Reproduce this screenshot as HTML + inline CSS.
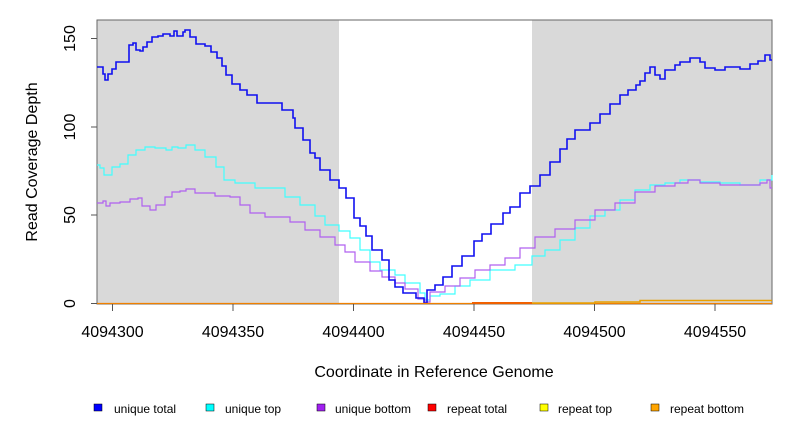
<!DOCTYPE html>
<html><head><meta charset="utf-8"><style>
body{margin:0;background:#fff;}
svg text{font-family:"Liberation Sans",sans-serif;}
</style></head><body>
<svg width="792" height="432" xmlns="http://www.w3.org/2000/svg">
<rect width="792" height="432" fill="#fff"/>
<rect x="97" y="20" width="242" height="284" fill="#d9d9d9"/>
<rect x="532" y="20" width="240" height="284" fill="#d9d9d9"/>
<rect x="97" y="20" width="675" height="284" fill="none" stroke="#666" stroke-width="1"/>
<g fill="none">
<path stroke="#40ffff" stroke-width="1.2" d="M97,165 H100 V168 H104 V175 H108 V175 H112 V167 H120 V164 H128 V155 H136 V150 H145 V147 H155 V148 H166 V150 H172 V147 H178 V148 H186 V145 H195 V150 H205 V157 H216 V167 H224 V180 H235 V183 H255 V188 H270 V188 H285 V197 H300 V205 H315 V216 H325 V225 H339 V231 H350 V238 H360 V250 H370 V262 H380 V270 H395 V275 H405 V283 H420 V293 H425 V300 H430 V296 H440 V294 H455 V286 H470 V280 H490 V270 H515 V265 H532 V256 H545 V250 H560 V240 H575 V228 H590 V216 H605 V210 H620 V200 H635 V190 H650 V185 H665 V183 H680 V180 H700 V182 H720 V183 H740 V185 H760 V180 H772 V175"/>
<path stroke="#b060f0" stroke-width="1.2" d="M97,203 H103 V201 H106 V206 H110 V203 H120 V202 H130 V199 H138 V198 H142 V206 H150 V210 H156 V205 H165 V197 H172 V192 H180 V191 H186 V189 H195 V193 H215 V196 H230 V197 H240 V205 H250 V213 H265 V217 H290 V222 H305 V230 H320 V237 H335 V245 H345 V252 H355 V262 H370 V271 H382 V277 H395 V283 H405 V289 H418 V299 H425 V302 H430 V292 H445 V286 H460 V278 H475 V270 H490 V265 H505 V258 H520 V248 H535 V237 H555 V229 H575 V220 H595 V210 H615 V203 H635 V192 H655 V186 H675 V183 H688 V180 H700 V183 H720 V185 H745 V185 H760 V183 H767 V180 H770 V188 H772"/>
<path stroke="#1010f0" stroke-width="1.6" d="M97,67 H101 V67 H103 V74 H105 V80 H108 V74 H112 V69 H116 V62 H127 V62 H129 V45 H133 V43 H136 V50 H140 V51 H143 V47 H147 V42 H152 V37 H158 V36 H163 V34 H170 V36 H174 V31 H177 V36 H183 V32 H185 V30 H190 V37 H196 V44 H205 V46 H211 V52 H217 V58 H222 V66 H226 V75 H232 V84 H240 V90 H247 V95 H257 V103 H269 V103 H282 V110 H293 V118 H295 V128 H303 V140 H310 V153 H315 V158 H320 V170 H330 V180 H339 V188 H346 V198 H354 V218 H360 V226 H366 V236 H372 V250 H382 V260 H389 V280 H395 V287 H403 V293 H416 V298 H424 V303 H427 V290 H435 V285 H443 V277 H452 V266 H462 V256 H474 V241 H482 V234 H491 V224 H503 V213 H510 V207 H520 V193 H530 V186 H540 V175 H550 V162 H560 V149 H567 V139 H575 V130 H590 V123 H600 V114 H610 V104 H620 V95 H628 V90 H636 V85 H640 V81 H645 V73 H650 V67 H655 V75 H660 V79 H665 V70 H675 V65 H680 V62 H690 V58 H700 V62 H705 V68 H715 V70 H725 V67 H740 V69 H750 V64 H758 V61 H765 V55 H770 V60 H772"/>
</g>
<line x1="97" y1="303.5" x2="772" y2="303.5" stroke="#f08000" stroke-width="1.2"/>
<line x1="472" y1="303" x2="532" y2="303" stroke="#f06000" stroke-width="2"/>
<polyline points="532,303 595,303 595,302 640,302 640,300.5 772,300.5" fill="none" stroke="#e8a000" stroke-width="1.5"/>
<g stroke="#555" stroke-width="1">
<line x1="97" y1="303.5" x2="91" y2="303.5"/><line x1="97" y1="215" x2="91" y2="215"/><line x1="97" y1="127" x2="91" y2="127"/><line x1="97" y1="38.5" x2="91" y2="38.5"/>
<line x1="112.5" y1="304" x2="112.5" y2="311"/><line x1="233" y1="304" x2="233" y2="311"/><line x1="353.5" y1="304" x2="353.5" y2="311"/><line x1="474" y1="304" x2="474" y2="311"/><line x1="594.5" y1="304" x2="594.5" y2="311"/><line x1="715" y1="304" x2="715" y2="311"/>
</g>
<g font-size="16" fill="#000" text-anchor="middle">
<text transform="translate(75,303.5) rotate(-90)">0</text>
<text transform="translate(75,215) rotate(-90)">50</text>
<text transform="translate(75,127) rotate(-90)">100</text>
<text transform="translate(75,38.5) rotate(-90)">150</text>
<text x="112.5" y="337">4094300</text><text x="233" y="337">4094350</text><text x="353.5" y="337">4094400</text><text x="474" y="337">4094450</text><text x="594.5" y="337">4094500</text><text x="715" y="337">4094550</text>
<text x="434" y="377">Coordinate in Reference Genome</text>
<text transform="translate(37,162) rotate(-90)">Read Coverage Depth</text>
</g>
<g font-size="12" fill="#000">
<rect x="94" y="404" width="8" height="7" fill="#0000ff" stroke="#000" stroke-width="0.5"/><text x="114" y="413">unique total</text>
<rect x="206" y="404" width="8" height="7" fill="#00ffff" stroke="#000" stroke-width="0.5"/><text x="225" y="413">unique top</text>
<rect x="317" y="404" width="8" height="7" fill="#a020f0" stroke="#000" stroke-width="0.5"/><text x="335" y="413">unique bottom</text>
<rect x="428" y="404" width="8" height="7" fill="#ff0000" stroke="#000" stroke-width="0.5"/><text x="447" y="413">repeat total</text>
<rect x="540" y="404" width="8" height="7" fill="#ffff00" stroke="#000" stroke-width="0.5"/><text x="558" y="413">repeat top</text>
<rect x="651" y="404" width="8" height="7" fill="#ffa500" stroke="#000" stroke-width="0.5"/><text x="670" y="413">repeat bottom</text>
</g>
</svg>
</body></html>
